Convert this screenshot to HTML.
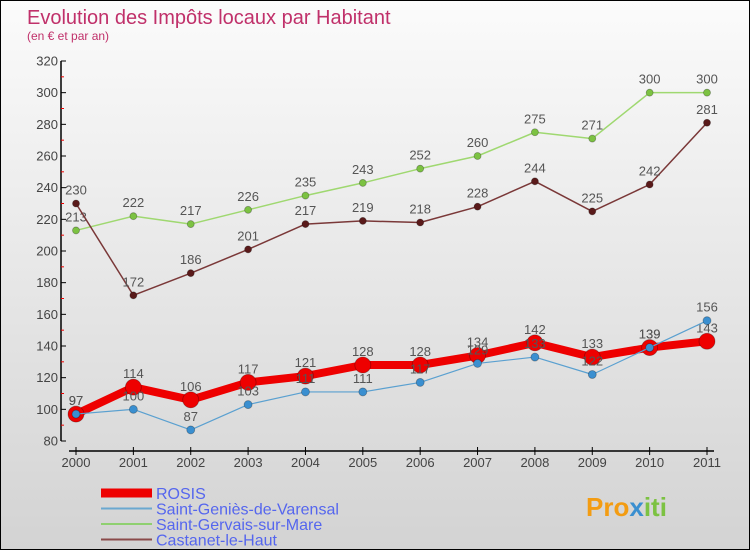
<!DOCTYPE html>
<html><head><meta charset="utf-8"><style>
body{margin:0}
#c{width:750px;height:550px;position:relative;box-sizing:border-box;border:1px solid #000;background:linear-gradient(#fbfbfb,#d3d3d3);font-family:"Liberation Sans",sans-serif;overflow:hidden}
svg text{font-family:"Liberation Sans",sans-serif}
</style></head><body>
<div id="c">
<svg id="s" width="750" height="550">
<text x="26" y="23" font-size="20" fill="#c0306a">Evolution des Impôts locaux par Habitant</text>
<text x="26" y="39" font-size="12" fill="#c0306a">(en € et par an)</text>
<text x="585" y="515" font-size="26" font-weight="bold" fill="#f39c12">Pro<tspan fill="#3a8fd0">x</tspan><tspan fill="#7cc242">iti</tspan></text>
</svg>
</div>
<script>
const years=[2000,2001,2002,2003,2004,2005,2006,2007,2008,2009,2010,2011];
const yTicks=[80,100,120,140,160,180,200,220,240,260,280,300,320];
const rosis=[97,114,106,117,121,128,128,134,142,133,139,143];
const genies=[97,100,87,103,111,111,117,129,133,122,139,156];
const gervais=[213,222,217,226,235,243,252,260,275,271,300,300];
const castanet=[230,172,186,201,217,219,218,228,244,225,242,281];
const seriesNames=["ROSIS","Saint-Geniès-de-Varensal","Saint-Gervais-sur-Mare","Castanet-le-Haut"];
const NS="http://www.w3.org/2000/svg",s=document.getElementById('s');
const X=i=>75+i*(706-75)/11, Y=v=>440-(v-80)*(380/240);
function el(t,a,p){const e=document.createElementNS(NS,t);for(const k in a)e.setAttribute(k,a[k]);(p||s).appendChild(e);return e;}
let ax=el('line',{x1:60,y1:60,x2:60,y2:440,stroke:'#000','stroke-width':1.5});


let xa=el('line',{x1:68,y1:450,x2:713,y2:450,stroke:'#000','stroke-width':1.5});


yTicks.forEach((v,i)=>{
 el('line',{x1:60,y1:Y(v),x2:65,y2:Y(v),stroke:'#000'});
 if(i<yTicks.length-1)el('line',{x1:60,y1:Y(v+10),x2:63,y2:Y(v+10),stroke:'#e00'});
 const t=el('text',{x:57,y:Y(v)+4.5,'text-anchor':'end','font-size':13,fill:'#444'});t.textContent=v;
 
 
});
years.forEach((y,i)=>{
 el('line',{x1:X(i),y1:446,x2:X(i),y2:454,stroke:'#000'});
 const t=el('text',{x:X(i),y:466,'text-anchor':'middle','font-size':13,fill:'#444'});t.textContent=y;
 
 
});
function series(d,color,w,r,name,dot){
 const g=el('g',{});
 
 
 el('polyline',{points:d.map((v,i)=>X(i)+','+Y(v)).join(' '),fill:'none',stroke:color,'stroke-width':w,'stroke-linejoin':'round'},g);
 d.forEach((v,i)=>{
  const c=el('circle',{cx:X(i),cy:Y(v),r:r,fill:dot,stroke:'rgba(0,0,0,0.3)','stroke-width':0.8},g);
  
  
  const t=el('text',{x:X(i),y:Y(v)-9,'text-anchor':'middle','font-size':13,fill:'#555'},g);t.textContent=v;
  
  
 });
}
series(gervais,'#9fd870',1.5,3.5,'series-saint-gervais','#7cc242');
series(castanet,'#7a3838',1.5,3.5,'series-castanet','#5a1a1a');
series(rosis,'#ee0000',8,8,'series-rosis','#ee0000');
series(genies,'#5aa0d0',1.2,4,'series-saint-genies','#3a8fd0');
const lc=['#ee0000','#6aa8d0','#8fd070','#8a4a4a'],lw=[9,2,2,2];
seriesNames.forEach((n,i)=>{
 const y=492+i*15.5;
 const l=el('line',{x1:100,y1:y,x2:151,y2:y,stroke:lc[i],'stroke-width':lw[i]});
 
 
 const t=el('text',{x:155,y:y+6,'font-size':16,fill:'#5566ee'});t.textContent=n;
 
 
});
</script>
</body></html>
